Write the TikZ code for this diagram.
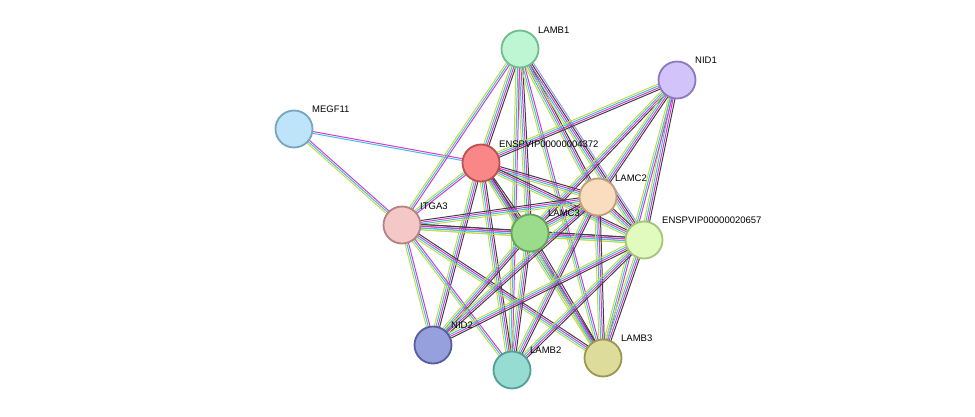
\documentclass[tikz,border=0pt]{standalone}
\usepackage{fontspec}
\setmainfont{Liberation Sans}
\usetikzlibrary{calc}
\definecolor{ty}{HTML}{C4DC44}
\definecolor{cy}{HTML}{3FC0E0}
\definecolor{mg}{HTML}{D838D0}
\definecolor{bk}{HTML}{404040}
\definecolor{hb}{HTML}{9A9AF0}
\newcommand\edg[3]{\edef\edglist{#3}\foreach \o/\c in \edglist{\draw[\c,line width=1pt] ($(#1)!\o pt!90:(#2)$) -- ($(#2)!\o pt!-90:(#1)$);}}
\def\full{-3.6/ty,-1.8/cy,0/mg,1.8/bk}
\def\fullh{-3.6/ty,-1.8/cy,0/mg,1.8/bk,3.6/hb}
\def\tcm{-3.6/ty,-1.8/cy,0/mg}
\tikzset{prot/.style={circle,draw,line width=1.8pt,minimum size=37pt,inner sep=0pt},
lab/.style={font=\fontsize{9.5pt}{10pt}\selectfont,anchor=south west,inner sep=1pt}}
\begin{document}
\begin{tikzpicture}[x=1pt,y=-1pt]
\useasboundingbox (0,0) rectangle (975,416);
\coordinate (LAMB1) at (520,49);
\coordinate (NID1) at (677,80);
\coordinate (MEGF11) at (294,129);
\coordinate (E4372) at (481,163);
\coordinate (LAMC2) at (598,197);
\coordinate (ITGA3) at (402,225);
\coordinate (LAMC3) at (530,233);
\coordinate (E20657) at (644,240);
\coordinate (NID2) at (433,345);
\coordinate (LAMB2) at (512,370);
\coordinate (LAMB3) at (603,358);
\edg{MEGF11}{E4372}{-0.9/cy,0.9/mg}
\edg{MEGF11}{ITGA3}{-1.8/ty,0/cy,1.8/mg}
\edg{LAMB1}{ITGA3}{\tcm}
\edg{LAMB1}{E4372}{\full}
\edg{LAMB1}{LAMC3}{\full}
\edg{LAMB1}{LAMC2}{\full}
\edg{LAMB1}{E20657}{\fullh}
\edg{LAMB1}{LAMB2}{\tcm}
\edg{LAMB1}{LAMB3}{\tcm}
\edg{NID1}{E4372}{\full}
\edg{NID1}{LAMC3}{\full}
\edg{NID1}{LAMC2}{\full}
\edg{NID1}{E20657}{\full}
\edg{NID1}{LAMB3}{\tcm}
\edg{E4372}{ITGA3}{\tcm}
\edg{E4372}{LAMC3}{\full}
\edg{E4372}{LAMC2}{\full}
\edg{E4372}{E20657}{\full}
\edg{E4372}{NID2}{\full}
\edg{E4372}{LAMB2}{\full}
\edg{E4372}{LAMB3}{\full}
\edg{ITGA3}{LAMC3}{\full}
\edg{ITGA3}{LAMC2}{\full}
\edg{ITGA3}{E20657}{\full}
\edg{ITGA3}{LAMB2}{-1.8/ty,0/cy,1.8/mg}
\edg{ITGA3}{LAMB3}{\full}
\edg{ITGA3}{NID2}{-1.8/ty,0/cy,1.8/mg}
\edg{LAMC3}{LAMC2}{\full}
\edg{LAMC3}{E20657}{\full}
\edg{LAMC3}{NID2}{\full}
\edg{LAMC3}{LAMB2}{\full}
\edg{LAMC3}{LAMB3}{\full}
\edg{LAMC2}{E20657}{\full}
\edg{LAMC2}{LAMB2}{\full}
\edg{LAMC2}{LAMB3}{\full}
\edg{LAMC2}{NID2}{\full}
\edg{E20657}{NID2}{\full}
\edg{E20657}{LAMB2}{\full}
\edg{E20657}{LAMB3}{\full}
\node[prot,fill={rgb,255:red,190;green,245;blue,210},draw={rgb,255:red,110;green,190;blue,140}] (nLAMB1) at (LAMB1) {};
\node[prot,fill={rgb,255:red,210;green,195;blue,250},draw={rgb,255:red,140;green,120;blue,190}] (nNID1) at (NID1) {};
\node[prot,fill={rgb,255:red,190;green,228;blue,250},draw={rgb,255:red,120;green,165;blue,190}] (nMEGF11) at (MEGF11) {};
\node[prot,fill={rgb,255:red,250;green,135;blue,135},draw={rgb,255:red,190;green,80;blue,80}] (nE4372) at (E4372) {};
\node[prot,fill={rgb,255:red,250;green,220;blue,190},draw={rgb,255:red,190;green,160;blue,120}] (nLAMC2) at (LAMC2) {};
\node[prot,fill={rgb,255:red,245;green,200;blue,200},draw={rgb,255:red,180;green,130;blue,130}] (nITGA3) at (ITGA3) {};
\node[prot,fill={rgb,255:red,155;green,220;blue,140},draw={rgb,255:red,100;green,165;blue,90}] (nLAMC3) at (LAMC3) {};
\node[prot,fill={rgb,255:red,225;green,250;blue,190},draw={rgb,255:red,165;green,195;blue,120}] (nE20657) at (E20657) {};
\node[prot,fill={rgb,255:red,150;green,160;blue,220},draw={rgb,255:red,85;green,95;blue,160}] (nNID2) at (NID2) {};
\node[prot,fill={rgb,255:red,150;green,220;blue,210},draw={rgb,255:red,80;green,160;blue,150}] (nLAMB2) at (LAMB2) {};
\node[prot,fill={rgb,255:red,222;green,220;blue,155},draw={rgb,255:red,155;green,150;blue,80}] (nLAMB3) at (LAMB3) {};
\node[lab] at (537,35) {LAMB1};
\node[lab] at (694,65) {NID1};
\node[lab] at (311,114) {MEGF11};
\node[lab] at (498,149) {ENSPVIP00000004372};
\node[lab] at (614,183) {LAMC2};
\node[lab] at (419,211) {ITGA3};
\node[lab] at (547,218) {LAMC3};
\node[lab] at (661,225) {ENSPVIP00000020657};
\node[lab] at (450,330) {NID2};
\node[lab] at (529,355) {LAMB2};
\node[lab] at (620,343) {LAMB3};
\end{tikzpicture}
\end{document}
